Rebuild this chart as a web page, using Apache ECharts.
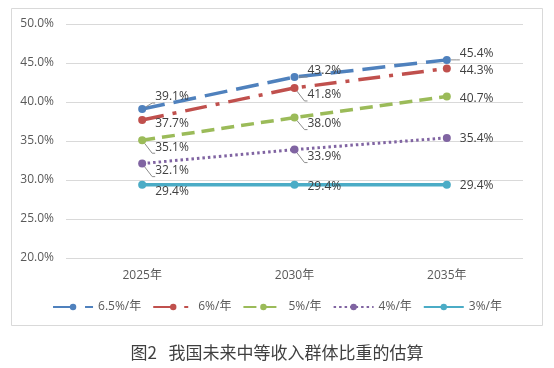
<!DOCTYPE html>
<html><head><meta charset="utf-8">
<script src="https://cdn.jsdelivr.net/npm/echarts@6/dist/echarts.min.js"></script>
<style>html,body{margin:0;padding:0;background:#fff}#c{width:554px;height:368px}</style>
</head><body><div id="c"></div>
<script>
// ---- data ----
const categories = ['2025年', '2030年', '2035年'];
const names = ['6.5%/年', '6%/年', '5%/年', '4%/年', '3%/年'];
const rate65 = [39.1, 43.2, 45.4];
const rate6 = [37.7, 41.8, 44.3];
const rate5 = [35.1, 38.0, 40.7];
const rate4 = [32.1, 33.9, 35.4];
const rate3 = [29.4, 29.4, 29.4];
const yMin = 20, yMax = 50, yStep = 5;
const caption = '图2   我国未来中等收入群体比重的估算';

// ---- styles ----
const colors = ['#4F81BD', '#C0504D', '#9BBB59', '#8064A2', '#4BACC6'];
const dashes = [[23, 9], [22, 9, 4, 9], [13, 7], [2.5, 3], 'solid'];
const widths = [3.5, 3.5, 3.5, 3, 3.5];
const labelDy = [[-12, -6, -6], [4, 7, 2], [7, 6, 2], [7, 7, 1], [7, 2, 1]];
const leader = [[1, 1, 1], [0, 1, 0], [1, 1, 0], [1, 1, 0], [0, 0, 0]];
const seriesData = [rate65, rate6, rate5, rate4, rate3];

const font = "'Open Sans', 'Noto Sans CJK SC', sans-serif";

const series = seriesData.map((arr, si) => ({
  name: names[si],
  type: 'line',
  symbol: 'circle',
  symbolSize: 8,
  itemStyle: { color: colors[si] },
  lineStyle: { color: colors[si], width: widths[si], type: dashes[si], cap: 'butt' },
  data: arr.map((v, i) => ({
    value: v,
    label: { offset: [0, labelDy[si][i]] },
    labelLine: { show: !!leader[si][i] }
  })),
  label: {
    show: true, position: 'right', distance: 9,
    color: '#404040', fontSize: 12, fontFamily: font,
    formatter: p => p.value.toFixed(1) + '%'
  },
  labelLine: { show: false, length2: 3, lineStyle: { color: '#8c8c8c', width: 1 } },
  emphasis: { disabled: true },
  animation: false
}));

const chart = echarts.init(document.getElementById('c'), null, { renderer: 'canvas' });
chart.setOption({
  backgroundColor: '#fff',
  animation: false,
  grid: { left: 66, right: 31, top: 24, bottom: 110, containLabel: false },
  xAxis: {
    type: 'category', data: categories, boundaryGap: true,
    axisLine: { show: false }, axisTick: { show: false },
    axisLabel: { color: '#595959', fontSize: 12, fontFamily: font, margin: 12 }
  },
  yAxis: {
    type: 'value', min: yMin, max: yMax, interval: yStep,
    axisLine: { show: false }, axisTick: { show: false },
    axisLabel: { color: '#595959', fontSize: 12, fontFamily: font, margin: 12,
      formatter: v => v.toFixed(1) + '%' },
    splitLine: { lineStyle: { color: '#d9d9d9', width: 1 } }
  },
  legend: {
    data: names, top: 296, left: 'center',
    itemWidth: 40, itemHeight: 8, itemGap: 11,
    textStyle: { color: '#595959', fontSize: 12, fontFamily: font }
  },
  title: {
    text: caption, left: 'center', top: 339,
    textStyle: { color: '#404040', fontSize: 17, fontWeight: 'normal', fontFamily: "'Noto Sans CJK SC', sans-serif" }
  },
  graphic: [{
    type: 'rect', silent: true, z: -1,
    shape: { x: 11.5, y: 8.5, width: 531, height: 317 },
    style: { fill: 'none', stroke: '#d9d9d9', lineWidth: 1 }
  }],
  series
});
</script></body></html>
